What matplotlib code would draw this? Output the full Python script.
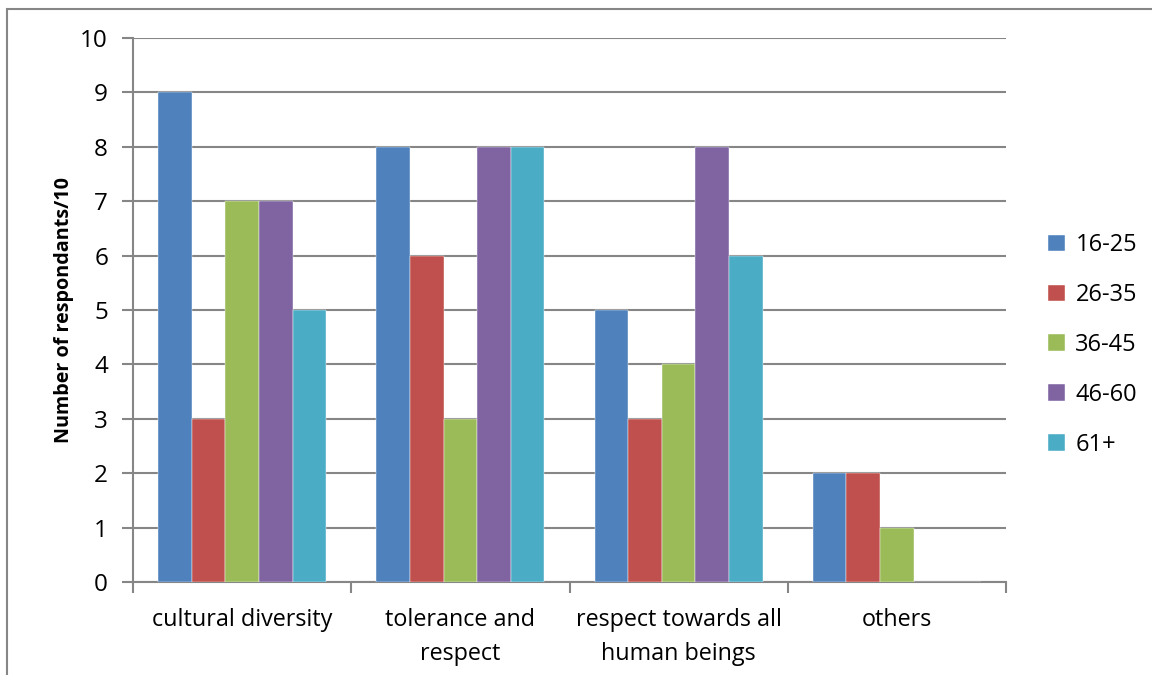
import matplotlib.pyplot as plt
import matplotlib.patches as mpatches
import numpy as np

# Data
categories = ["cultural diversity", "tolerance and\nrespect",
              "respect towards all\nhuman beings", "others"]
age_groups = ["16-25", "26-35", "36-45", "46-60", "61+"]
v_16_25 = [9, 8, 5, 2]
v_26_35 = [3, 6, 3, 2]
v_36_45 = [7, 3, 4, 1]
v_46_60 = [7, 8, 8, 0]
v_61p = [5, 8, 6, 0]
series = [v_16_25, v_26_35, v_36_45, v_46_60, v_61p]
colors = ["#4F81BD", "#C0504D", "#9BBB59", "#8064A2", "#4BACC6"]

plt.rcParams['font.family'] = ['Open Sans', 'DejaVu Sans']

W, H = 1152, 675
fig = plt.figure(figsize=(W/100, H/100), dpi=100)

# outer chart frame (left and top visible)
frame = mpatches.Rectangle((7/W, -0.1), 1.2, 1 - 9/H + 0.1, transform=fig.transFigure,
                           facecolor="none", edgecolor="#868686", lw=1.5, zorder=-5)
fig.patches.append(frame)

ax = fig.add_axes([133/W, 1 - 582/H, (1006-133)/W, (582-38)/H])

x = np.arange(len(categories))
barwidth = 0.154
for i, vals in enumerate(series):
    offs = (i - 2) * barwidth
    ax.bar(x + offs, vals, width=barwidth, color=colors[i], label=age_groups[i],
           edgecolor="white", linewidth=0.3, zorder=3)

ax.set_xlim(-0.5, len(categories) - 0.5)
ax.set_ylim(0, 10)
ax.set_yticks(range(0, 11))
ax.yaxis.grid(True, color="#868686", lw=1.5, zorder=0)

# ticks on category boundaries, labels at centres
ax.set_xticks(np.arange(-0.5, len(categories), 1.0))
ax.set_xticklabels([])
ax.set_xticks(x, minor=True)
ax.set_xticklabels(categories, minor=True, linespacing=1.55)
ax.tick_params(axis='x', which='minor', length=0, pad=19, labelsize=16.8)
ax.tick_params(axis='x', which='major', length=8, width=1.5, color="#868686", direction='out')
ax.tick_params(axis='y', length=8, width=1.5, color="#868686", labelsize=17.5, pad=10)

for s in ["top", "right"]:
    ax.spines[s].set_visible(False)
for s in ["left", "bottom"]:
    ax.spines[s].set_color("#868686")
    ax.spines[s].set_linewidth(1.5)

ax.set_ylabel("Number of respondants/10", fontsize=14.2, fontweight='bold')
ax.yaxis.set_label_coords((74 - 133)/(1006 - 133), 0.5)

leg = ax.legend(loc="center left", bbox_to_anchor=(1027/W, 0.5 - (345 - 337.5)/H),
                bbox_transform=fig.transFigure, frameon=False, fontsize=17,
                handlelength=0.7, handleheight=0.7, handletextpad=0.45, labelspacing=1.1)

fig.savefig("out.png", dpi=100)
